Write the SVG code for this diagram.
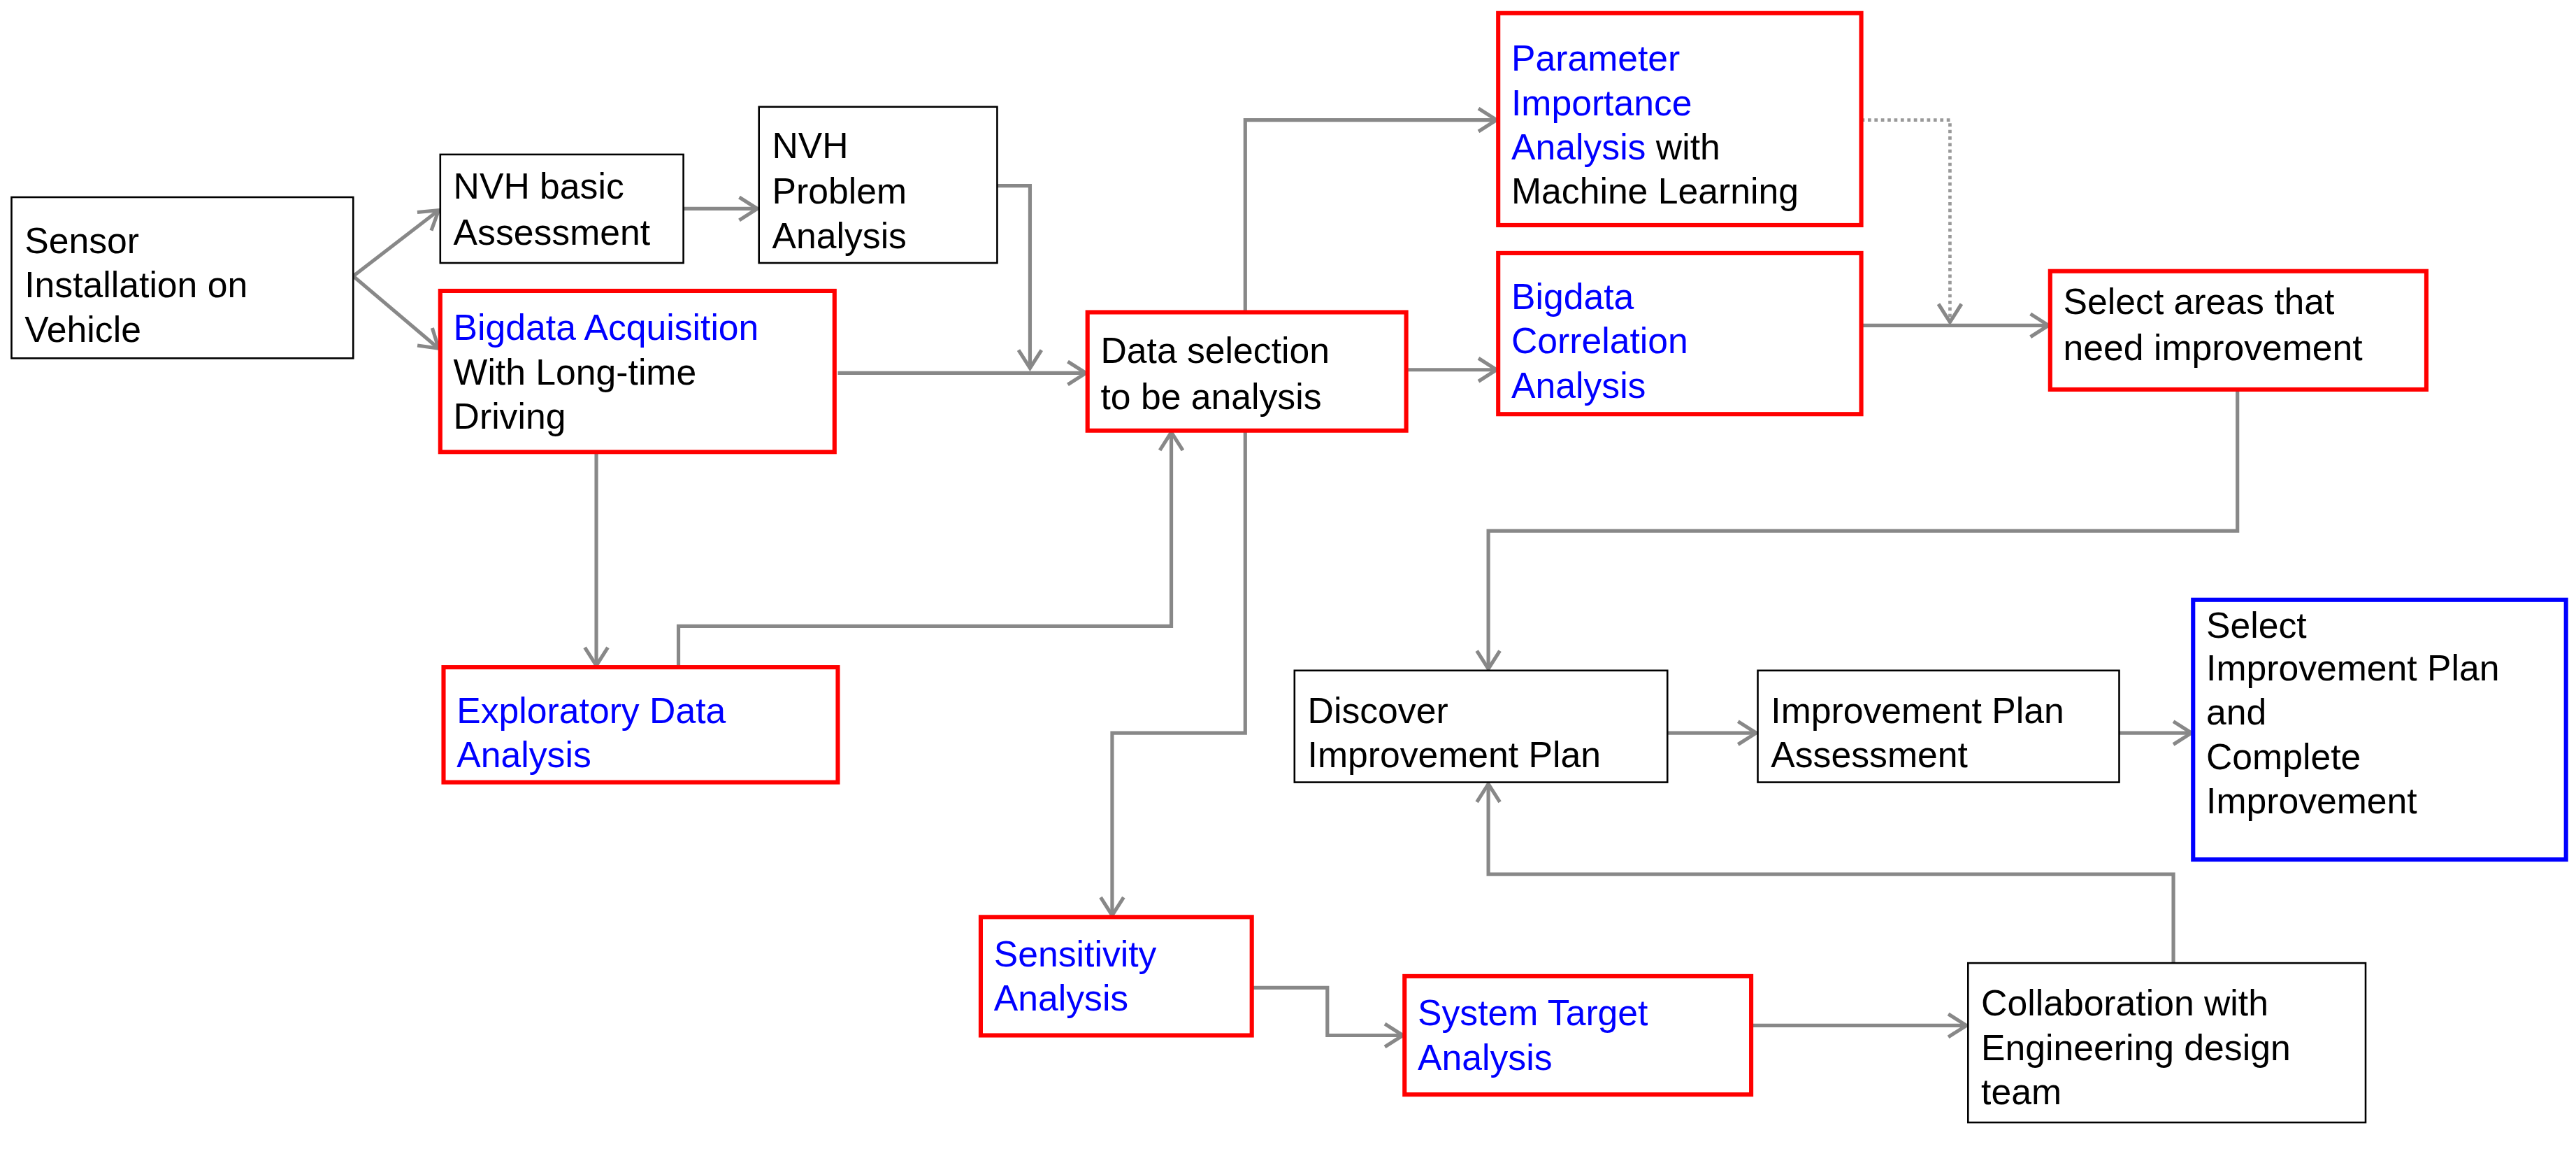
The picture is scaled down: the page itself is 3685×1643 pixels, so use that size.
<svg xmlns="http://www.w3.org/2000/svg" width="3685" height="1643" viewBox="0 0 3685 1643">
<style>
.b{fill:#fff;stroke:#000;stroke-width:1.1}
.r{fill:#fff;stroke:#f00;stroke-width:2.6}
.u{fill:#fff;stroke:#00f;stroke-width:2.6}
text{font-family:"Liberation Sans","Noto Sans",sans-serif;font-size:22px;fill:#000}
.bl{fill:#0000ff}
.c{fill:none;stroke:#888;stroke-width:2.2}
.d{fill:none;stroke:#999;stroke-width:2;stroke-dasharray:2 2}
</style>
<defs>
<marker id="a" markerUnits="userSpaceOnUse" markerWidth="16" markerHeight="16" refX="14" refY="8" orient="auto" viewBox="0 0 16 16">
<path d="M3,1 L14,8 L3,15" fill="none" stroke="#888" stroke-width="2.2"/>
</marker>
</defs>
<rect width="3685" height="1643" fill="#fff"/>
<g transform="scale(2.35)">
<g id="connectors">
<path class="c" d="M215,168 L267,128" marker-end="url(#a)"/>
<path class="c" d="M215,168 L267,212" marker-end="url(#a)"/>
<path class="c" d="M416,127 L461,127" marker-end="url(#a)"/>
<path class="c" d="M607,113 L627,113 L627,224" marker-end="url(#a)"/>
<path class="c" d="M510,227 L661,227" marker-end="url(#a)"/>
<path class="c" d="M363,275 L363,405" marker-end="url(#a)"/>
<path class="c" d="M413,406 L413,381 L713,381 L713,263" marker-end="url(#a)"/>
<path class="c" d="M758,190 L758,73 L911,73" marker-end="url(#a)"/>
<path class="c" d="M856,225 L911,225" marker-end="url(#a)"/>
<path class="c" d="M758,262 L758,446 L677,446 L677,557" marker-end="url(#a)"/>
<path class="d" d="M1133,73 L1187,73 L1187,196" marker-end="url(#a)"/>
<path class="c" d="M1133,198 L1247,198" marker-end="url(#a)"/>
<path class="c" d="M1362,237 L1362,323 L906,323 L906,407" marker-end="url(#a)"/>
<path class="c" d="M1015,446 L1069,446" marker-end="url(#a)"/>
<path class="c" d="M1290,446 L1334,446" marker-end="url(#a)"/>
<path class="c" d="M762,601 L808,601 L808,630 L854,630" marker-end="url(#a)"/>
<path class="c" d="M1066,624 L1197,624" marker-end="url(#a)"/>
<path class="c" d="M1323,586 L1323,532 L906,532 L906,477" marker-end="url(#a)"/>
</g>
<g id="sensor"><rect class="b" x="7" y="120" width="208" height="98"/><text x="15" y="154">Sensor</text><text x="15" y="181">Installation on</text><text x="15" y="208">Vehicle</text></g>
<g id="nvhbasic"><rect class="b" x="268" y="94" width="148" height="66"/><text x="276" y="121">NVH basic</text><text x="276" y="149">Assessment</text></g>
<g id="nvhproblem"><rect class="b" x="462" y="65" width="145" height="95"/><text x="470" y="96">NVH</text><text x="470" y="124">Problem</text><text x="470" y="151">Analysis</text></g>
<g id="bigdataacq"><rect class="r" x="268" y="177" width="240" height="98"/><text x="276" y="207" class="bl">Bigdata Acquisition</text><text x="276" y="234">With Long-time</text><text x="276" y="261">Driving</text></g>
<g id="dataselection"><rect class="r" x="662" y="190" width="194" height="72"/><text x="670" y="221">Data selection</text><text x="670" y="249">to be analysis</text></g>
<g id="parameter"><rect class="r" x="912" y="8" width="221" height="129"/><text x="920" y="43" class="bl">Parameter</text><text x="920" y="70" class="bl">Importance</text><text x="920" y="97"><tspan class="bl">Analysis</tspan> with</text><text x="920" y="124">Machine Learning</text></g>
<g id="correlation"><rect class="r" x="912" y="154" width="221" height="98"/><text x="920" y="188" class="bl">Bigdata</text><text x="920" y="215" class="bl">Correlation</text><text x="920" y="242" class="bl">Analysis</text></g>
<g id="selectareas"><rect class="r" x="1248" y="165" width="229" height="72"/><text x="1256" y="191">Select areas that</text><text x="1256" y="219">need improvement</text></g>
<g id="exploratory"><rect class="r" x="270" y="406" width="240" height="70"/><text x="278" y="440" class="bl">Exploratory Data</text><text x="278" y="467" class="bl">Analysis</text></g>
<g id="discover"><rect class="b" x="788" y="408" width="227" height="68"/><text x="796" y="440">Discover</text><text x="796" y="467">Improvement Plan</text></g>
<g id="assessment"><rect class="b" x="1070" y="408" width="220" height="68"/><text x="1078" y="440">Improvement Plan</text><text x="1078" y="467">Assessment</text></g>
<g id="selectplan"><rect class="u" x="1335" y="365" width="227" height="158"/><text x="1343" y="388">Select</text><text x="1343" y="414">Improvement Plan</text><text x="1343" y="441">and</text><text x="1343" y="468">Complete</text><text x="1343" y="495">Improvement</text></g>
<g id="sensitivity"><rect class="r" x="597" y="558" width="165" height="72"/><text x="605" y="588" class="bl">Sensitivity</text><text x="605" y="615" class="bl">Analysis</text></g>
<g id="systemtarget"><rect class="r" x="855" y="594" width="211" height="72"/><text x="863" y="624" class="bl">System Target</text><text x="863" y="651" class="bl">Analysis</text></g>
<g id="collaboration"><rect class="b" x="1198" y="586" width="242" height="97"/><text x="1206" y="618">Collaboration with</text><text x="1206" y="645">Engineering design</text><text x="1206" y="672">team</text></g>
</g>
</svg>
